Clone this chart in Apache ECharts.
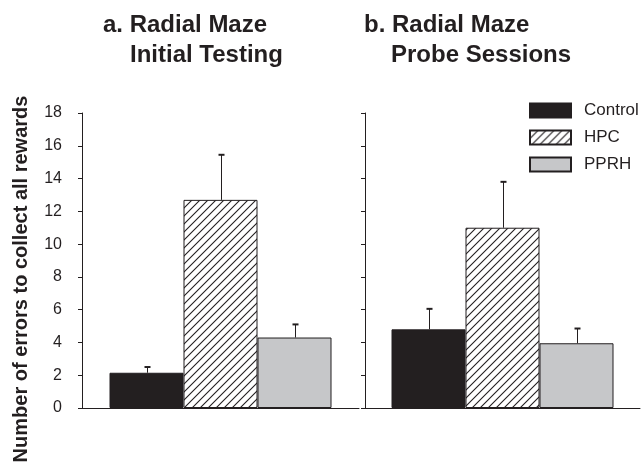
<!DOCTYPE html>
<html><head><meta charset="utf-8">
<script src="https://cdn.jsdelivr.net/npm/echarts@6/dist/echarts.min.js"></script>
<style>html,body{margin:0;padding:0;background:#fff}#c{width:641px;height:468px}</style>
</head><body><div id="c"></div>
<script>
// ---- data ----
const groups = ['Control', 'HPC', 'PPRH'];
const panelTitleA = ['a. Radial Maze', 'Initial Testing'];
const panelTitleB = ['b. Radial Maze', 'Probe Sessions'];
const initialMeans = [2.15, 12.7, 4.3];
const initialErrTops = [2.5, 15.45, 5.1];
const probeMeans = [4.8, 11.0, 3.95];
const probeErrTops = [6.05, 13.8, 4.85];
const yMin = 0, yMax = 18, yStep = 2;
const yTitle = 'Number of errors to collect all rewards';

// ---- styles ----
const INK = '#231f20';
const FONT = 'Liberation Sans, Arial, sans-serif';
const BAR_W = 74;

function hatchCanvas() {
  const c = document.createElement('canvas');
  c.width = 8; c.height = 8;
  const g = c.getContext('2d');
  g.fillStyle = '#fff'; g.fillRect(0, 0, 8, 8);
  g.strokeStyle = INK; g.lineWidth = 1.1;
  g.beginPath();
  g.moveTo(0, 8); g.lineTo(8, 0);
  g.moveTo(-2, 2); g.lineTo(2, -2);
  g.moveTo(6, 10); g.lineTo(10, 6);
  g.stroke();
  return c;
}
const fills = [INK, { image: hatchCanvas(), repeat: 'repeat' }, '#c6c7c9'];

const grids = [
  { left: 82, width: 277, top: 113, bottom: 60 },
  { left: 365, width: 275, top: 113, bottom: 60 }
];
const panels = [
  { means: initialMeans, tops: initialErrTops },
  { means: probeMeans, tops: probeErrTops }
];

const xAxes = grids.map((g, i) => ({
  type: 'category', gridIndex: i, data: [''],
  axisLine: { lineStyle: { color: INK, width: 1 } },
  axisTick: { show: false }, axisLabel: { show: false }
}));
const yAxes = grids.map((g, i) => ({
  type: 'value', gridIndex: i, min: yMin, max: yMax, interval: yStep,
  axisLine: { show: true, lineStyle: { color: INK, width: 1 } },
  axisTick: { show: true, length: 4, lineStyle: { color: INK } },
  splitLine: { show: false },
  axisLabel: { show: i === 0, color: INK, fontSize: 16, fontFamily: FONT, margin: 20 }
}));

const series = [];
panels.forEach((p, gi) => {
  groups.forEach((name, k) => {
    series.push({
      name: name, type: 'bar', xAxisIndex: gi, yAxisIndex: gi,
      barWidth: BAR_W, barGap: '0%',
      itemStyle: { color: fills[k], borderColor: INK, borderWidth: 1 },
      data: [p.means[k]], silent: true
    });
  });
  series.push({
    type: 'custom', xAxisIndex: gi, yAxisIndex: gi, z: 5,
    data: p.tops.map((t, k) => [0, t, p.means[k]]),
    renderItem: function (params, api) {
      const k = params.dataIndex;
      const base = api.coord([0, api.value(2)]);
      const top = api.coord([0, api.value(1)]);
      const x = Math.round(base[0] + (k - 1) * BAR_W) + 0.5;
      return {
        type: 'group', children: [
          { type: 'line', shape: { x1: x, y1: base[1], x2: x, y2: top[1] }, style: { stroke: INK, lineWidth: 1 } },
          { type: 'line', shape: { x1: x - 3, y1: top[1], x2: x + 3, y2: top[1] }, style: { stroke: INK, lineWidth: 2 } }
        ]
      };
    }
  });
});

const titleStyle = { fontSize: 24, fontWeight: 'bold', color: INK, fontFamily: FONT };
const option = {
  animation: false,
  backgroundColor: '#fff',
  title: [
    { text: panelTitleA[0], left: 103, top: 13, padding: 0, textStyle: titleStyle },
    { text: panelTitleA[1], left: 130, top: 43, padding: 0, textStyle: titleStyle },
    { text: panelTitleB[0], left: 364, top: 13, padding: 0, textStyle: titleStyle },
    { text: panelTitleB[1], left: 391, top: 43, padding: 0, textStyle: titleStyle }
  ],
  legend: {
    data: groups, orient: 'vertical', left: 529, top: 102,
    itemWidth: 41, itemHeight: 14, itemGap: 10, icon: 'rect', padding: 0,
    selectedMode: false,
    textStyle: { fontSize: 17, color: INK, fontFamily: FONT, padding: [0, 0, 0, 8] }
  },
  grid: grids,
  xAxis: xAxes,
  yAxis: yAxes,
  series: series,
  graphic: [{
    type: 'text', x: 21, y: 279, rotation: Math.PI / 2,
    style: { text: yTitle, fontSize: 20, fontWeight: 'bold', fill: INK, fontFamily: FONT,
      align: 'center', verticalAlign: 'middle' }
  }]
};
echarts.init(document.getElementById('c'), null, { renderer: 'canvas' }).setOption(option);
</script></body></html>
